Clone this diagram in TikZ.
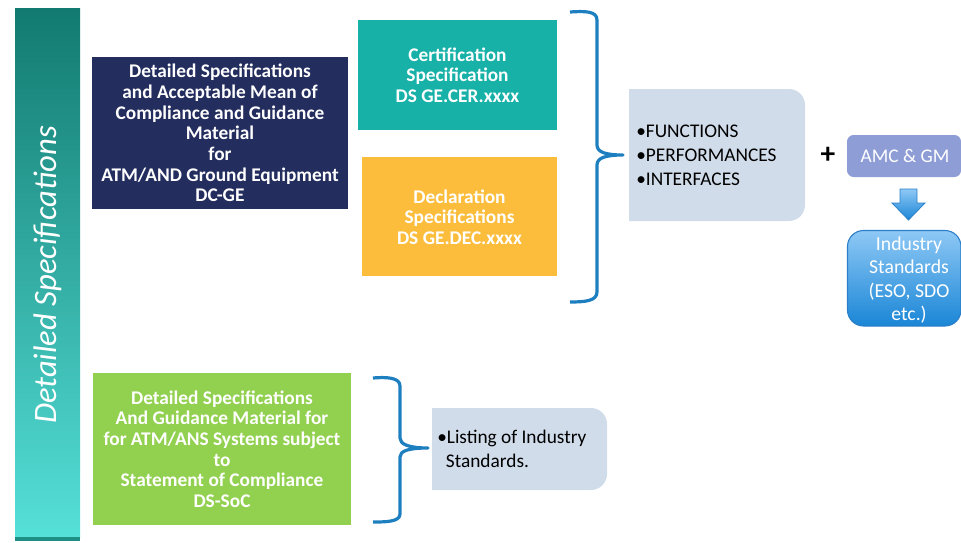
\documentclass[tikz,border=0pt]{standalone}
\usepackage{fontspec}
\setmainfont{Carlito}
\usetikzlibrary{shapes.arrows}
\definecolor{navy}{HTML}{232D5E}
\definecolor{tealbox}{HTML}{17B1A8}
\definecolor{orangebox}{HTML}{FBBD3B}
\definecolor{greenbox}{HTML}{92D050}
\definecolor{greyblue}{HTML}{D0DCEA}
\definecolor{bracecol}{HTML}{1E7FC0}
\definecolor{amccol}{HTML}{8F9DD6}
\definecolor{bartop}{HTML}{127A70}
\definecolor{barmid}{HTML}{1CCFC4}
\definecolor{barbot}{HTML}{55E0D8}
\definecolor{indtop}{HTML}{8EC8F5}
\definecolor{indbot}{HTML}{1A86D6}
\definecolor{indline}{HTML}{2A7FC8}
\tikzset{
  specbox/.style={inner sep=0pt, align=center, text=white,
    font=\fontsize{14.5}{15.5}\selectfont\bfseries},
  listbox/.style={inner sep=0pt, align=left, text=black,
    font=\fontsize{14.5}{18}\selectfont},
  bracestyle/.style={draw=bracecol, line width=2.4pt, line join=round},
}
\begin{document}
\begin{tikzpicture}[x=0.75pt,y=-0.75pt]
\useasboundingbox (0,0) rectangle (961,543);
% left bar
\shade[top color=bartop, middle color=barmid, bottom color=barbot] (15,8) rectangle (80,537);
\fill[bartop!80!barbot] (15,537) rectangle (80,541);
\node[rotate=90, text=white, font=\fontsize{24.5}{28}\selectfont\itshape] (bar) at (47.5,275) {Detailed Specifications};

% navy box
\fill[navy] (92,57) rectangle (348,209);
\node[specbox] (dcge) at (220,133) {Detailed Specifications\\and Acceptable Mean of\\Compliance and Guidance\\Material\\for\\ATM/AND Ground Equipment\\DC-GE};

% teal box
\fill[tealbox] (358,20) rectangle (557,130);
\node[specbox] (cer) at (457.5,75) {Certification\\Specification\\DS GE.CER.xxxx};

% orange box
\fill[orangebox] (362,157) rectangle (557,276);
\node[specbox] (dec) at (459.5,217) {Declaration\\Specifications\\DS GE.DEC.xxxx};

% functions box
\fill[greyblue] (629,221) -- (629,89) [rounded corners=12] -- (805,89) -- (805,221) [sharp corners] -- (629,221) -- cycle;
\node[listbox, anchor=west] (func) at (636,155) {•FUNCTIONS\\•PERFORMANCES\\•INTERFACES};
\coordinate (funcw) at (623,155);

% brace 1
\draw[bracestyle] (570,12) .. controls (585,11) and (597,11) .. (597,20) -- (597,145)
  .. controls (597,152) and (605,155) .. (funcw)
  .. controls (605,155) and (597,158) .. (597,165) -- (597,292)
  .. controls (597,301) and (585,302) .. (570,302);

% plus
\node[font=\fontsize{22}{22}\selectfont\bfseries] (plus) at (828,155) {+};

% AMC box
\fill[amccol, rounded corners=5] (847,135) rectangle (961,177);
\node[text=white, font=\fontsize{14.5}{16}\selectfont] (amc) at (905,156) {AMC \& GM};

% down arrow
\shade[top color=indtop, bottom color=indbot, draw=indline, line width=0.6pt]
  (900,189) -- (917,189) -- (917,203) -- (925,203) -- (908.5,220) -- (892,203) -- (900,203) -- cycle;
\coordinate (arrowtip) at (908.5,220);

% industry standards
\shade[top color=indtop, bottom color=indbot, draw=indline, line width=0.8pt, rounded corners=12]
  (847.5,230.5) rectangle (961,326);
\node[text=white, align=center, font=\fontsize{14.8}{17.6}\selectfont] (ind) at (909,280) {Industry\\Standards\\(ESO, SDO\\etc.)};

% green box
\fill[greenbox] (93,373) rectangle (351,525);
\node[specbox] (soc) at (222,449) {Detailed Specifications\\And Guidance Material for\\for ATM/ANS Systems subject\\to\\Statement of Compliance\\DS-SoC};

% listing box
\fill[greyblue] (432,490) -- (432,408) [rounded corners=12] -- (607,408) -- (607,490) [sharp corners] -- (432,490) -- cycle;
\node[listbox, anchor=west] (list) at (437,449) {•Listing of Industry\\\hspace*{6.5pt}Standards.};
\coordinate (listw) at (428,448);

% brace 2
\draw[bracestyle] (373,378) .. controls (385,377) and (400,377) .. (400,386) -- (400,438)
  .. controls (400,444) and (408,448) .. (listw)
  .. controls (408,448) and (400,451) .. (400,457) -- (400,514)
  .. controls (400,522) and (385,522) .. (373,522);
\end{tikzpicture}
\end{document}
